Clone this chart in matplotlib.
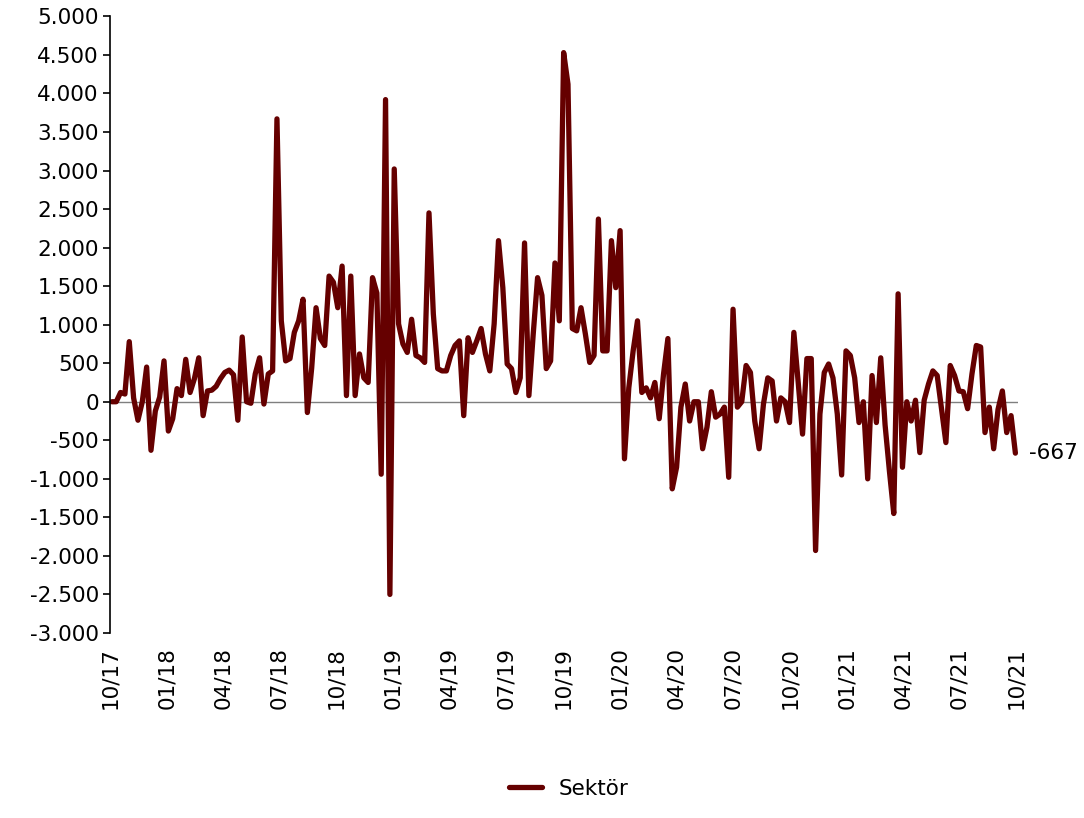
import pandas as pd
import matplotlib.pyplot as plt
import matplotlib.dates as mdates
from matplotlib.ticker import FuncFormatter

# haftalık sektör verisi (10/17 - 10/21)
sektor = [
    0, 0, 120, 100, 780, 50, -240, 0, 450, -630, -120, 60, 530, -380, -220, 170,
    80, 550, 120, 300, 570, -180, 140, 150, 200, 300, 380, 410, 350, -240, 840, 0,
    -20, 360, 570,
    -30, 360, 400, 3670, 1050, 530, 560, 900, 1050, 1330, -140, 440, 1220, 820, 730,
    1630, 1550, 1220, 1760, 80, 1630, 80, 620, 310, 250, 1610, 1410, -940, 3920,
    -2500, 3020, 1010,
    750, 640, 1070, 600, 570, 510, 2450, 1140, 430, 400, 400, 600, 730, 790, -180,
    830, 640, 790, 950, 620, 400, 1010, 2090,
    1480, 490, 430, 120, 310, 2060, 80, 880, 1610, 1380, 430, 530, 1800, 1050, 4530,
    4120, 950, 920, 1220, 880, 510, 600, 2370, 660, 660, 2090, 1480, 2220, -740,
    180, 660, 1050, 120, 180, 50, 250, -220,
    360, 820, -1130, -850, -70, 230, -250, 0, 0, -610, -330, 130, -200, -160, -70,
    -980, 1200, -70, 0, 470, 380, -250, -610, -30, 310, 270, -250, 50, 0, -270, 900,
    250, -420,
    560, 560, -1930, -160, 380, 490, 310, -160, -950, 660, 600, 310, -270, 0, -1000,
    340, -270, 570, -300, -900, -1450, 1400, -850, 0, -250, 20, -660, 20, 230, 400,
    340, -100, -530, 470, 340, 140, 130, -90, 360, 730, 710, -400, -70, -610, -100,
    140, -400, -180, -667,
]
tarihler = pd.date_range("2017-10-04", periods=len(sektor), freq="7D")

renk = "#650000"

fig = plt.figure(figsize=(10.84, 8.18), dpi=100)
ax = fig.add_axes([0.1015, 0.2262, 0.8375, 0.7538])

ax.plot(tarihler, sektor, color=renk, linewidth=3.8, label="Sektör",
        solid_joinstyle="round", solid_capstyle="round")
ax.axhline(0, color="#7f7f7f", linewidth=1, zorder=0)

ax.set_ylim(-3000, 5000)
ax.set_yticks(range(-3000, 5001, 500))
ax.yaxis.set_major_formatter(FuncFormatter(lambda v, p: f"{v:,.0f}".replace(",", ".")))

ax.set_xlim(pd.Timestamp("2017-10-01"), pd.Timestamp("2021-10-03"))
ax.xaxis.set_major_locator(mdates.MonthLocator(bymonth=[1, 4, 7, 10]))
ax.xaxis.set_major_formatter(mdates.DateFormatter("%m/%y"))

for s in ["top", "right", "bottom"]:
    ax.spines[s].set_visible(False)
ax.spines["left"].set_linewidth(1.2)
ax.tick_params(axis="y", labelsize=15.5, length=5, width=1.2, pad=3)
ax.tick_params(axis="x", labelsize=15.5, length=0, rotation=90, pad=10)

# son değer etiketi
ax.annotate(f"{sektor[-1]}", xy=(tarihler[-1], sektor[-1]), xytext=(10, 0),
            textcoords="offset points", va="center", ha="left", fontsize=15.5)

fig.legend(loc="lower center", bbox_to_anchor=(0.525, 0.0), frameon=False,
           fontsize=15.5, handlelength=1.5)

fig.savefig("out.png", dpi=100)
